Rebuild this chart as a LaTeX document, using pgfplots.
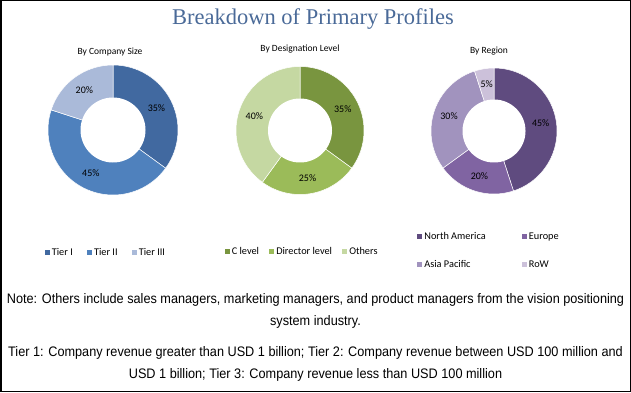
\documentclass[border=0pt]{standalone}
\usepackage{pgfplots}
\pgfplotsset{compat=1.18}
\usepackage{fontspec}
\setmainfont{Carlito}
\newfontfamily\titlefont{Liberation Serif}
\newfontfamily\notefont[FakeStretch=0.92]{Liberation Sans}

\definecolor{titleblue}{HTML}{4A6A98}
\definecolor{tA}{HTML}{4169A0}
\definecolor{tB}{HTML}{4F81BD}
\definecolor{tC}{HTML}{AABAD9}
\definecolor{dA}{HTML}{79953F}
\definecolor{dB}{HTML}{9BBB59}
\definecolor{dC}{HTML}{C5D8A2}
\definecolor{rA}{HTML}{5F4B7F}
\definecolor{rB}{HTML}{8064A2}
\definecolor{rC}{HTML}{A193BE}
\definecolor{rD}{HTML}{CCC1DA}

% #1 colour, #2 cumulative start (%), #3 value (%)
\newcommand{\slice}[3]{%
  \pgfmathsetmacro{\sa}{90-3.6*(#2+#3)}%
  \pgfmathsetmacro{\sb}{90-3.6*(#2)}%
  \addplot[fill=#1, draw=white, line width=0.5pt, domain=\sa:\sb, samples=90]
    ({cos(x)},{sin(x)}) -- (axis cs:0,0) -- cycle;
}
% #1 cumulative start, #2 value, #3 radius in pt
\newcommand{\plabel}[3]{%
  \pgfmathsetmacro{\sm}{90-3.6*(#1+#2/2)}%
  \pgfmathsetmacro{\rr}{0.75*#3}%
  \edef\tmp{\noexpand\path (axis cs:0,0) ++(\sm:\rr pt) node[font=\noexpand\fontsize{10}{12}\noexpand\selectfont] {#2\noexpand\%};}%
  \tmp
}
\newcommand{\hole}{%
  \addplot[fill=white, draw=none, domain=0:360, samples=120, forget plot]
    ({0.5*cos(x)},{0.5*sin(x)}) -- cycle;
}

\pgfplotsset{
  donut/.style={
    scale only axis, hide axis, clip=false,
    xmin=-1, xmax=1, ymin=-1, ymax=1,
    anchor=center, legend cell align=left,
    legend image code/.code={\fill[##1, draw=none] (0pt,-2.6pt) rectangle (5.2pt,2.6pt);},
    legend style={draw=none, fill=none, font=\fontsize{10.3}{12}\selectfont,
      inner sep=0pt, anchor=center,
      /tikz/every even column/.append style={column sep=12pt}},
  }
}

\begin{document}
\begin{tikzpicture}
\draw[black, line width=1.5pt] (0.75pt,0.75pt) rectangle (630.25pt,391.25pt);

\node[font=\titlefont\fontsize{22.5}{26}\selectfont, text=titleblue] at (313pt,373pt) {Breakdown of Primary Profiles};

\node[font=\fontsize{9.5}{11}\selectfont] at (110pt,340pt) {By Company Size};
\node[font=\fontsize{9.5}{11}\selectfont] at (300pt,343pt) {By Designation Level};
\node[font=\fontsize{9.5}{11}\selectfont] at (489pt,341pt) {By Region};

% By Company Size
\begin{axis}[donut, at={(113pt,262pt)}, width=130pt, height=130pt,
  legend columns=3, legend style={at={(0.445,-0.445)}}]
  \slice{tA}{0}{35}  \addlegendentry{Tier I}
  \slice{tB}{35}{45} \addlegendentry{Tier II}
  \slice{tC}{80}{20} \addlegendentry{Tier III}
  \hole
  \plabel{0}{35}{65}
  \plabel{35}{45}{65}
  \plabel{80}{20}{65}
\end{axis}

% By Designation Level
\begin{axis}[donut, at={(300pt,261.5pt)}, width=128pt, height=128pt,
  legend columns=3, legend style={at={(0.516,-0.445)},
    /tikz/every even column/.append style={column sep=8pt}}]
  \slice{dA}{0}{35}  \addlegendentry{C level}
  \slice{dB}{35}{25} \addlegendentry{Director level}
  \slice{dC}{60}{40} \addlegendentry{Others}
  \hole
  \plabel{0}{35}{64}
  \plabel{35}{25}{64}
  \plabel{60}{40}{64}
\end{axis}

% By Region
\begin{axis}[donut, at={(494pt,261pt)}, width=126pt, height=126pt,
  legend columns=2, legend style={at={(0.46,-0.45)}, row sep=15pt,
    /tikz/every even column/.append style={column sep=34pt}}]
  \slice{rA}{0}{45}  \addlegendentry{North America}
  \slice{rB}{45}{20} \addlegendentry{Europe}
  \slice{rC}{65}{30} \addlegendentry{Asia Pacific}
  \slice{rD}{95}{5}  \addlegendentry{RoW}
  \hole
  \plabel{0}{45}{63}
  \plabel{45}{20}{63}
  \plabel{65}{30}{63}
  \plabel{95}{5}{63}
\end{axis}

\begin{scope}[every node/.style={font=\notefont\fontsize{13.8}{16}\selectfont, inner sep=0pt}]
\node at (315.5pt,92pt) {Note: Others include sales managers, marketing managers, and product managers from the vision positioning};
\node at (315.5pt,70pt) {system industry.};
\node at (315.5pt,39.5pt) {Tier 1: Company revenue greater than USD 1 billion; Tier 2: Company revenue between USD 100 million and};
\node at (315.5pt,17pt) {USD 1 billion; Tier 3: Company revenue less than USD 100 million};
\end{scope}
\end{tikzpicture}
\end{document}
